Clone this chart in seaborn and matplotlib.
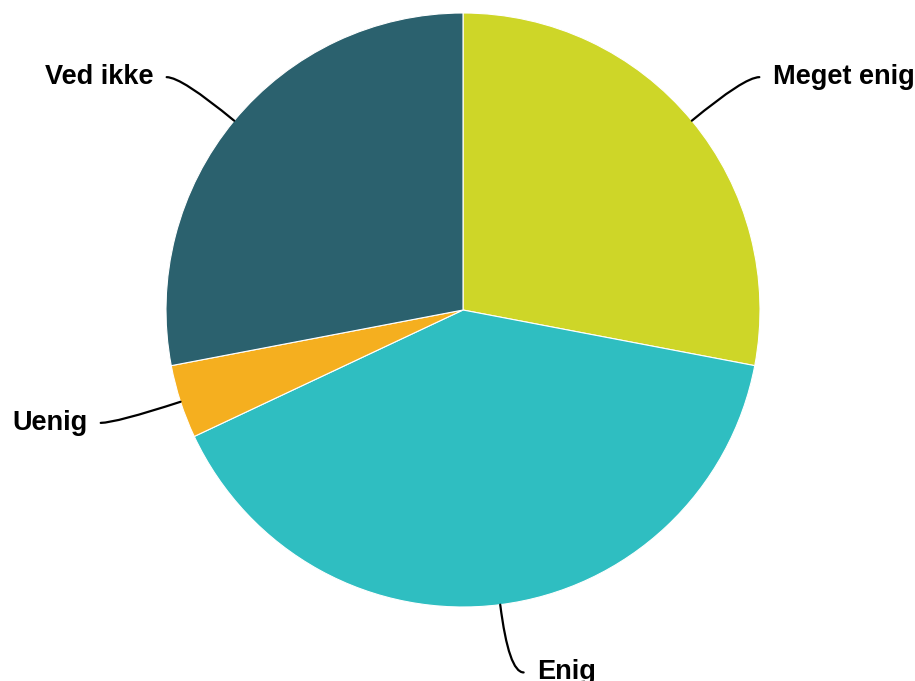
import numpy as np
import matplotlib
matplotlib.use("Agg")
import matplotlib.pyplot as plt
from matplotlib.path import Path
from matplotlib.patches import PathPatch
import seaborn as sns

# Survey answers and their shares (%)
categories = ["Meget enig", "Enig", "Uenig", "Ved ikke"]
shares = [28, 40, 4, 28]
colors = ["#CED628", "#2FBEC1", "#F5AF1F", "#2B616E"]

sns.set_theme(style="white")
plt.rcParams["font.family"] = ["Liberation Sans", "DejaVu Sans"]

W, H, DPI = 915, 681, 100
fig = plt.figure(figsize=(W / DPI, H / DPI), dpi=DPI)
ax = fig.add_axes([0, 0, 1, 1])

wedges, _ = ax.pie(
    shares,
    colors=colors,
    startangle=90,
    counterclock=False,
    radius=1.0,
    wedgeprops=dict(edgecolor="white", linewidth=0.8),
)

# pie radius in pixels and centre position in pixels
R_PX = 297.0
CX, CY = 463.0, 310.0
ax.set_xlim(-CX / R_PX, (W - CX) / R_PX)
ax.set_ylim(-(H - CY) / R_PX, CY / R_PX)
ax.set_aspect("equal")
ax.axis("off")

# curved connectors from each slice to its label
label_r = 1.23
tail = 0.05
gap = 0.045
for w, name in zip(wedges, categories):
    mid = np.deg2rad((w.theta1 + w.theta2) / 2.0)
    x0, y0 = np.cos(mid), np.sin(mid)
    cx, cy = label_r * np.cos(mid), label_r * np.sin(mid)
    side = 1 if cx >= 0 else -1
    ex, ey = cx + side * tail, cy
    path = Path([(x0, y0), (cx, cy), (ex, ey)],
                [Path.MOVETO, Path.CURVE3, Path.CURVE3])
    ax.add_patch(PathPatch(path, fill=False, edgecolor="black", linewidth=1.6,
                           capstyle="round", zorder=3))
    ax.text(ex + side * gap, ey, name,
            ha="left" if side > 0 else "right", va="center",
            fontsize=19.5, fontweight="bold", color="black", zorder=4)

fig.savefig("out.png", dpi=DPI, facecolor="white")
